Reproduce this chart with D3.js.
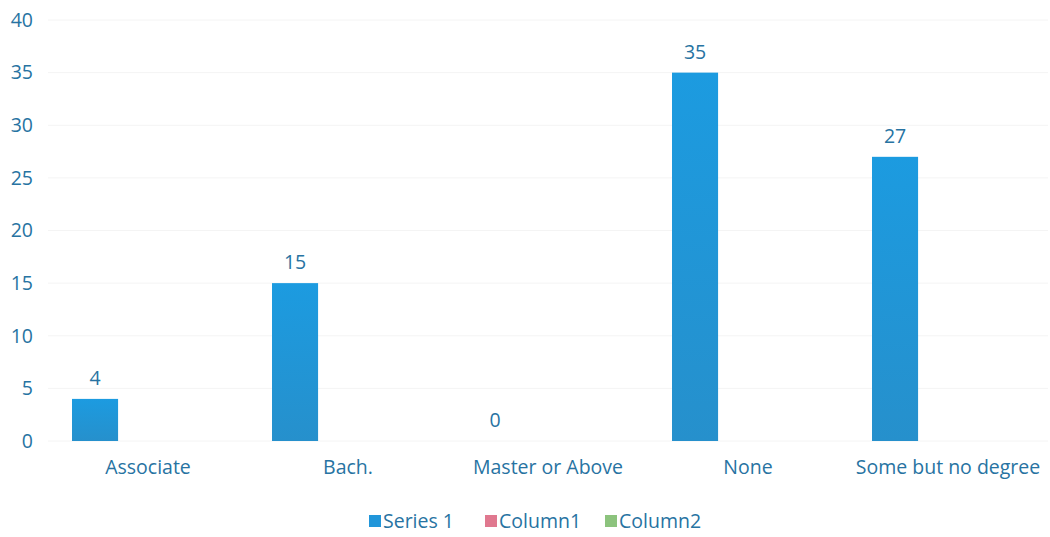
<!DOCTYPE html>
<html>
<head>
<meta charset="utf-8">
<script src="https://cdn.jsdelivr.net/npm/d3@7"></script>
<style>
  html, body { margin: 0; padding: 0; background: #fff; }
  svg text { font-family: "Open Sans", Lato, sans-serif; fill: #2773A2; }
</style>
</head>
<body>
<svg id="chart" width="1050" height="537"></svg>
<script>
// Education level counts
const categories = ["Associate", "Bach.", "Master or Above", "None", "Some but no degree"];
const seriesNames = ["Series 1", "Column1", "Column2"];
const series1 = [4, 15, 0, 35, 27];
const column1 = [null, null, null, null, null];
const column2 = [null, null, null, null, null];
const yTicks = [0, 5, 10, 15, 20, 25, 30, 35, 40];
const seriesColors = ["#2196DA", "#E0788F", "#8CC37D"];

const svg = d3.select("#chart");
const margin = { top: 20, left: 48, right: 2, bottom: 96 };
const width = 1050, height = 537;
const fontFam = "'Open Sans', Lato, sans-serif";
const fs = 19.5;

const x0 = d3.scaleBand().domain(categories).range([margin.left, width - margin.right]);
const x1 = d3.scaleBand().domain(seriesNames).range([-76, 76]).paddingInner(0.13);
const y = d3.scaleLinear().domain([0, 40]).range([height - margin.bottom, margin.top]);

const defs = svg.append("defs");
const grad = defs.append("linearGradient").attr("id", "barFill")
  .attr("x1", 0).attr("y1", 0).attr("x2", 0).attr("y2", 1);
grad.append("stop").attr("offset", "0%").attr("stop-color", "#1C9BE0");
grad.append("stop").attr("offset", "100%").attr("stop-color", "#2690CC");

// faint horizontal gridlines
svg.append("g").selectAll("line").data(yTicks).join("line")
  .attr("x1", margin.left).attr("x2", width - margin.right)
  .attr("y1", d => y(d)).attr("y2", d => y(d))
  .attr("stroke", "#f4f4f4").attr("stroke-width", 1);

// y axis labels
const yAxis = d3.axisLeft(y).tickValues(yTicks).tickSize(0).tickPadding(0);
const yg = svg.append("g").attr("transform", `translate(${margin.left - 15},0)`).call(yAxis);
yg.select(".domain").remove();
yg.selectAll("text").attr("font-size", fs).style("fill", "#2773A2").style("font-family", fontFam);

// x axis labels
const xAxis = d3.axisBottom(x0).tickSize(0).tickPadding(0);
const xg = svg.append("g").attr("transform", `translate(0,${y(0) + 19})`).call(xAxis);
xg.select(".domain").remove();
xg.selectAll("text").attr("font-size", fs).style("fill", "#2773A2").style("font-family", fontFam);

// bars for Series 1
const rows = categories.map((c, i) => ({ cat: c, v: series1[i] }));
const cx = d => x0(d.cat) + x0.bandwidth() / 2 + x1("Series 1");

svg.append("g").selectAll("rect").data(rows.filter(d => d.v > 0)).join("rect")
  .attr("x", cx)
  .attr("width", x1.bandwidth())
  .attr("y", d => y(d.v))
  .attr("height", d => y(0) - y(d.v))
  .attr("fill", "url(#barFill)");

// value labels
svg.append("g").selectAll("text").data(rows).join("text")
  .attr("x", d => cx(d) + x1.bandwidth() / 2)
  .attr("y", d => y(d.v) - 14)
  .attr("text-anchor", "middle")
  .attr("font-size", fs)
  .text(d => d.v);

// legend
const legendItems = [
  { name: "Series 1", x: 369 },
  { name: "Column1", x: 485 },
  { name: "Column2", x: 605 }
];
const lg = svg.append("g");
legendItems.forEach((it, i) => {
  lg.append("rect").attr("x", it.x).attr("y", 515).attr("width", 12).attr("height", 12)
    .attr("fill", seriesColors[i]);
  lg.append("text").attr("x", it.x + 14).attr("y", 528).attr("font-size", fs).text(it.name);
});
</script>
</body>
</html>
